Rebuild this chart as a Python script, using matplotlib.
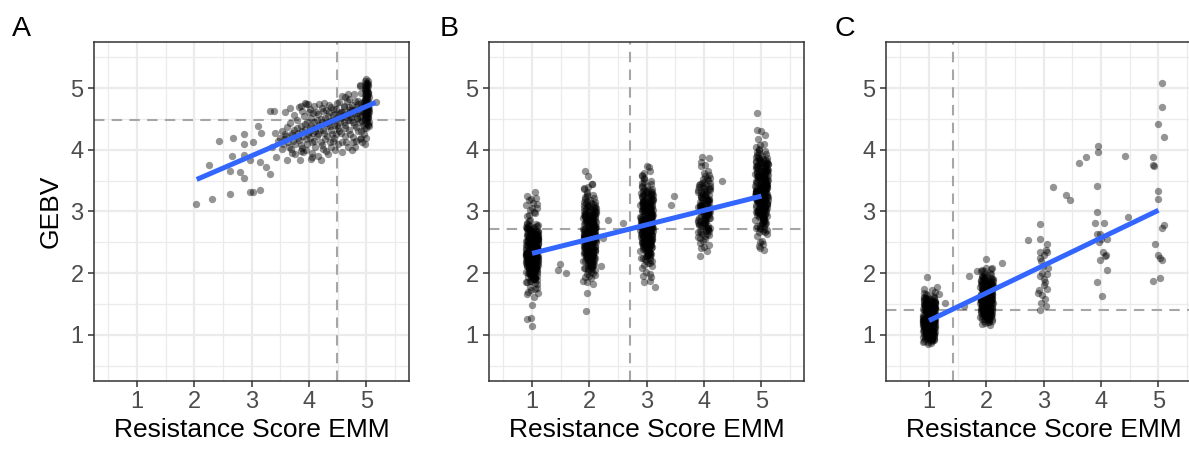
import numpy as np
import matplotlib.pyplot as plt

plt.rcParams['font.family'] = ['Liberation Sans', 'DejaVu Sans']

# ---------------- data ----------------
# panel A: scattered points (x = resistance score EMM, y = GEBV)
a_x = [2.03, 2.30, 2.62, 2.97, 3.03, 3.14, 2.26, 2.42, 2.68, 2.87, 2.87, 3.03, 3.11, 3.16,
       2.66, 2.87, 2.97, 2.62, 2.80, 2.87, 3.14, 3.24, 3.32, 3.32, 3.38, 3.43, 3.49, 3.62,
       3.75, 3.84, 4.03, 4.20, 4.45, 4.25, 4.57, 4.77, 4.74, 4.88, 5.00, 5.17, 4.57, 4.88,
       3.85, 3.98, 3.36, 3.45, 3.52, 3.58, 3.40,
       3.82, 3.88, 3.95, 4.02, 4.08, 4.12, 4.18, 4.22, 4.30, 4.35, 4.42, 4.48, 4.55, 4.60,
       4.66, 4.70, 4.75, 4.62, 4.68, 4.80, 4.85, 4.90,
       3.55, 3.60, 3.65, 3.70, 3.72, 3.78, 3.80, 3.85, 3.88, 3.92, 3.95, 3.98, 4.02, 4.05,
       4.08, 4.10, 4.14, 4.18, 4.20, 4.24, 4.27, 4.30, 4.33, 4.36, 4.40, 4.42, 4.45, 4.48,
       4.52, 4.55, 4.58, 4.60, 4.63, 4.66, 4.70, 4.72, 4.75, 4.78, 4.80, 4.83, 4.86, 4.88,
       4.90, 4.92, 4.94,
       3.70, 3.85, 3.95, 4.05, 4.10, 4.15, 4.22, 4.30, 4.38, 4.42, 4.50, 4.62, 4.68, 4.72,
       4.82, 4.85, 4.90, 4.95, 4.98,
       4.99, 5.02, 4.97, 5.03, 5.00, 4.98, 5.04, 5.01, 4.96, 5.02, 4.99, 5.03, 4.97, 5.00,
       5.02, 4.98, 5.04, 5.01, 4.99, 5.02, 4.97, 5.00, 5.03, 4.98, 5.01, 5.02, 4.99, 5.04,
       4.98, 5.01, 5.03, 4.96, 5.00, 5.02, 4.98, 5.01, 5.03, 4.97, 5.00, 5.02, 4.99, 5.01,
       5.00, 4.98, 5.03, 5.05, 5.04, 4.97, 4.88, 4.90, 4.86]
a_y = [3.12, 3.21, 3.29, 3.32, 3.31, 3.35, 3.76, 4.14, 4.20, 4.25, 4.10, 4.12, 4.38, 4.28,
       3.90, 3.92, 3.83, 3.65, 3.64, 3.55, 3.80, 3.72, 3.61, 4.63, 4.63, 3.88, 4.20, 3.83,
       3.94, 3.83, 3.85, 3.84, 3.99, 4.02, 4.12, 4.12, 4.00, 4.18, 4.20, 4.77, 4.88, 5.06,
       4.71, 4.74, 4.05, 4.15, 4.02, 4.25, 4.28,
       4.70, 4.63, 4.74, 4.66, 4.71, 4.61, 4.75, 4.68, 4.64, 4.73, 4.67, 4.76, 4.62, 4.71,
       4.79, 4.69, 4.65, 4.85, 4.90, 4.80, 4.74, 4.70,
       4.10, 4.22, 4.05, 4.28, 4.15, 4.35, 4.20, 4.08, 4.30, 4.42, 4.18, 4.26, 4.36, 4.12,
       4.45, 4.30, 4.22, 4.40, 4.50, 4.32, 4.18, 4.44, 4.55, 4.38, 4.26, 4.48, 4.58, 4.40,
       4.30, 4.52, 4.62, 4.45, 4.36, 4.56, 4.62, 4.48, 4.58, 4.40, 4.65, 4.52, 4.60, 4.45,
       4.30, 4.56, 4.40,
       3.95, 3.98, 4.00, 3.95, 4.05, 3.90, 4.08, 3.98, 4.05, 4.15, 4.10, 4.22, 4.05, 4.25,
       4.15, 4.30, 4.20, 4.25, 4.10,
       4.36, 4.42, 4.48, 4.52, 4.55, 4.58, 4.61, 4.64, 4.66, 4.69, 4.71, 4.73, 4.75, 4.78,
       4.80, 4.83, 4.86, 4.88, 4.91, 4.94, 4.97, 5.00, 5.03, 5.06, 5.09, 5.12, 5.15, 4.45,
       4.50, 4.60, 4.68, 4.77, 4.85, 4.92, 4.99, 5.05, 4.40, 4.57, 4.63, 4.74, 4.82, 4.96,
       5.08, 4.70, 4.54, 4.66, 4.38, 4.89, 5.04, 4.93, 4.80]
# panel A: the dense band between scores 3.5 and 5
a_band_x = [3.52, 3.57, 3.61, 3.63, 3.67, 3.69, 3.71, 3.74, 3.76, 3.79,
            3.81, 3.83, 3.86, 3.87, 3.90, 3.91, 3.93, 3.96, 3.97, 3.99,
            4.01, 4.03, 4.04, 4.06, 4.07, 4.09, 4.11, 4.13, 4.15, 4.16,
            4.19, 4.21, 4.23, 4.25, 4.26, 4.28, 4.31, 4.32, 4.34, 4.37,
            4.39, 4.41, 4.43, 4.44, 4.46, 4.49, 4.50, 4.53, 4.54, 4.56,
            4.59, 4.61, 4.62, 4.64, 4.67, 4.69, 4.71, 4.73, 4.74, 4.76,
            4.79, 4.81, 4.82, 4.84, 4.87, 4.89, 4.91, 4.93, 4.95, 4.96,
            3.58, 3.66, 3.73, 3.92, 4.00, 4.26, 4.38, 4.52, 4.70, 4.78,
            4.05, 4.33, 4.57, 4.65, 4.80, 4.92, 4.36, 3.89, 4.47, 4.76,
            5.00, 5.01, 4.99, 5.02, 5.00, 4.98, 5.01, 5.03, 4.99, 5.00, 5.02, 4.98, 5.01,
            5.03, 4.99, 5.00, 5.02, 4.97, 5.01, 5.00, 4.99, 5.02, 5.00, 4.98, 5.01]
a_band_y = [4.31, 4.18, 4.37, 4.12, 4.44, 4.02, 4.24, 4.33, 4.10, 4.48,
            4.27, 4.16, 4.39, 4.03, 4.22, 4.55, 4.34, 4.09, 4.46, 4.29,
            4.19, 4.52, 4.41, 4.27, 4.60, 4.14, 4.35, 4.48, 4.26, 4.58,
            4.33, 4.12, 4.45, 4.63, 4.28, 4.51, 4.38, 4.22, 4.61, 4.47,
            4.33, 4.56, 4.19, 4.41, 4.66, 4.52, 4.36, 4.60, 4.46, 4.27,
            4.55, 4.69, 4.41, 4.58, 4.49, 4.33, 4.64, 4.54, 4.73, 4.46,
            4.59, 4.37, 4.70, 4.50, 4.63, 4.55, 4.76, 4.47, 4.62, 4.35,
            4.62, 4.68, 4.57, 4.76, 4.62, 4.76, 4.69, 4.77, 4.82, 4.90,
            3.88, 3.93, 3.96, 4.13, 4.04, 4.12, 4.12, 3.96, 4.25, 4.21,
            4.44, 4.51, 4.59, 4.65, 4.72, 4.79, 4.84, 4.90, 4.95, 5.02, 5.07, 5.11, 4.47,
            4.56, 4.62, 4.69, 4.76, 4.81, 4.87, 4.93, 4.53, 4.59, 4.67, 4.74, 4.98]

# horizontal jitter offsets used for the dense score columns (panels B and C)
jit = [-0.08, 0.03, 0.10, -0.02, 0.06, -0.10, 0.01, 0.08, -0.05, 0.04, -0.09, 0.07, -0.01, 0.09, -0.06,
       0.02, -0.03, 0.11, -0.07, 0.05, 0.00, -0.11, 0.08, -0.04, 0.03, 0.10, -0.08, 0.06, -0.02, 0.01,
       -0.10, 0.09, -0.05, 0.04, -0.06, 0.07, 0.02, -0.09, 0.05, -0.01, 0.10, -0.03, 0.08, -0.07, 0.00,
       0.06, -0.11, 0.03, -0.04, 0.09, -0.08, 0.01, 0.07, -0.02, 0.11, -0.06, 0.04, -0.09, 0.02, 0.08,
       -0.05, 0.10, -0.01, 0.05, -0.10, 0.03, 0.09, -0.07, 0.00, 0.06, -0.03, 0.08, -0.08, 0.01, 0.04,
       -0.06, 0.11, -0.04, 0.07, -0.09, 0.02, 0.05, -0.02, 0.10, -0.07, 0.03, -0.11, 0.06, -0.05, 0.09,
       0.00, -0.08, 0.04, 0.08, -0.03, 0.01, -0.10, 0.07, -0.06, 0.05, 0.02, -0.04, 0.09, -0.01, 0.03,
       -0.09, 0.06, -0.02, 0.10, -0.05, 0.04, -0.07, 0.08, 0.01, -0.10, 0.05, -0.03, 0.07, 0.00, -0.06,
       0.09, -0.01, 0.03, -0.08, 0.06, -0.04, 0.11, -0.06, 0.02, 0.08, -0.09, 0.04, -0.02, 0.05, -0.07,
       0.01, 0.07, -0.05, 0.10, -0.03, 0.06, -0.10, 0.03, -0.01, 0.09, -0.07, 0.02, 0.08, -0.04, 0.05]

scores = [1, 2, 3, 4, 5]

# panel B: GEBV per score column (outer spread)
b1_y = [2.31, 2.05, 2.62, 1.88, 2.44, 2.17, 2.73, 1.96, 2.38, 2.51, 2.12, 2.80, 2.26, 1.82, 2.58,
        2.09, 2.35, 2.67, 1.93, 2.21, 2.47, 2.02, 2.76, 2.29, 2.14, 2.55, 1.85, 2.41, 2.69, 2.00,
        2.33, 2.19, 2.84, 2.07, 2.49, 2.24, 1.91, 2.60, 2.36, 2.11, 2.78, 1.98, 2.43, 2.27, 2.65,
        2.04, 2.52, 2.16, 1.87, 2.39, 2.71, 2.22, 2.46, 1.95, 2.57, 2.10, 2.32, 2.82, 2.01, 2.63,
        2.28, 2.13, 2.48, 1.90, 2.37, 2.75, 2.06, 2.54, 2.20, 1.84, 2.42, 2.66, 2.15, 2.30, 1.99,
        2.59, 2.25, 2.87, 2.08, 2.45, 2.34, 1.94, 2.70, 2.18, 2.53, 2.03, 2.40, 2.61, 2.23, 1.89,
        2.50, 2.79, 2.12, 2.36, 2.56, 1.97, 2.29, 2.68, 2.09, 2.44, 2.18, 2.33, 2.26, 2.40, 2.21,
        2.35, 2.15, 2.47, 2.28, 2.02, 2.39, 2.24, 2.55, 2.11, 2.31, 2.43, 2.19, 2.37, 2.06, 2.49,
        2.27, 2.64, 2.13, 2.34, 1.92, 2.46, 2.22, 2.58, 2.17, 2.38, 2.74, 2.05, 2.30, 2.52, 2.25,
        2.42, 2.08, 2.32, 2.61, 2.16, 2.45, 1.86, 2.36, 2.20, 2.57, 2.29, 2.10, 2.41, 2.72, 2.23]
b2_y = [2.61, 2.23, 2.95, 2.04, 2.78, 2.40, 3.18, 2.15, 2.67, 2.88, 2.31, 3.27, 2.52, 1.97, 2.83,
        2.36, 2.71, 3.05, 2.09, 2.47, 2.92, 2.19, 3.22, 2.58, 2.27, 2.99, 1.93, 2.74, 3.11, 2.12,
        2.64, 2.44, 3.32, 2.21, 2.86, 2.50, 2.02, 3.01, 2.69, 2.34, 3.15, 2.07, 2.77, 2.55, 3.08,
        2.18, 2.90, 2.42, 1.99, 2.73, 3.24, 2.46, 2.81, 2.11, 2.97, 2.29, 2.62, 3.36, 2.14, 3.03,
        2.56, 2.38, 2.85, 2.06, 2.68, 3.13, 2.25, 2.93, 2.49, 2.01, 2.76, 3.07, 2.33, 2.59, 2.16,
        2.98, 2.53, 3.29, 2.28, 2.80, 2.66, 2.10, 3.09, 2.43, 2.91, 2.20, 2.72, 3.02, 2.48, 2.05,
        2.87, 3.20, 2.37, 2.63, 2.94, 2.17, 2.57, 3.12, 2.32, 2.79, 2.45, 2.65, 2.54, 2.70, 2.51,
        2.60, 2.39, 2.84, 2.58, 2.24, 2.75, 2.52, 2.96, 2.35, 2.62, 2.82, 2.47, 2.68, 2.30, 2.89,
        2.55, 3.00, 2.41, 2.66, 2.13, 2.86, 2.50, 3.04, 2.44, 2.73, 3.16, 2.26, 2.61, 2.90, 2.57,
        2.77, 2.34, 2.63, 3.06, 2.40, 2.83, 2.08, 2.69, 2.48, 3.10, 2.59, 2.22, 2.75, 3.25, 2.53]
b3_y = [2.81, 2.42, 3.16, 2.20, 2.97, 2.58, 3.41, 2.31, 2.86, 3.08, 2.49, 3.50, 2.71, 2.12, 3.03,
        2.54, 2.92, 3.27, 2.25, 2.66, 3.13, 2.36, 3.45, 2.78, 2.44, 3.20, 2.08, 2.95, 3.33, 2.28,
        2.84, 2.63, 3.55, 2.39, 3.06, 2.69, 2.17, 3.23, 2.89, 2.52, 3.37, 2.23, 2.98, 2.75, 3.30,
        2.34, 3.11, 2.61, 2.14, 2.93, 3.47, 2.65, 3.01, 2.27, 3.18, 2.46, 2.83, 3.58, 2.30, 3.25,
        2.76, 2.56, 3.05, 2.21, 2.88, 3.35, 2.43, 3.14, 2.68, 2.16, 2.96, 3.29, 2.51, 2.79, 2.33,
        3.19, 2.73, 3.52, 2.45, 3.00, 2.86, 2.26, 3.31, 2.62, 3.12, 2.37, 2.91, 3.24, 2.67, 2.19,
        3.07, 3.42, 2.55, 2.82, 3.15, 2.32, 2.77, 3.34, 2.50, 2.99, 2.64, 2.85, 2.74, 2.90, 2.70,
        2.80, 2.57, 3.04, 2.78, 2.41, 2.94, 2.72, 3.17, 2.53, 2.82, 3.02, 2.66, 2.88, 2.48, 3.09,
        2.75, 3.22, 2.60, 2.87, 2.29, 3.06, 2.69, 3.26, 2.63, 2.93, 3.39, 2.44, 2.81, 3.10, 2.76,
        2.97, 2.52, 2.84, 3.28, 2.59, 3.03, 2.24, 2.89, 2.68, 3.32, 2.79, 2.40, 2.95, 3.48, 2.73]
b4_y = [3.05, 2.71, 3.38, 2.52, 3.19, 2.86, 3.57, 2.62, 3.10, 3.29, 2.78, 3.66, 2.95, 2.45, 3.24,
        2.83, 3.14, 3.46, 2.57, 2.92, 3.33, 2.67, 3.60, 3.01, 2.75, 3.41, 2.49, 3.17, 3.52, 2.60,
        3.08, 2.89, 3.74, 2.69, 3.27, 2.97, 2.55, 3.43, 3.12, 2.80, 3.54, 2.64, 3.21, 3.00, 3.48,
        2.73, 3.31, 2.93, 3.03, 3.15, 2.85, 3.36, 2.98, 3.22, 3.07, 2.76, 3.12, 2.90, 3.26, 3.02,
        2.66, 3.35, 2.81, 3.18, 2.58, 3.44, 2.94, 3.09, 3.62, 2.70]
b5_y = [3.31, 2.92, 3.66, 2.71, 3.47, 3.08, 3.90, 2.81, 3.36, 3.58, 2.99, 3.98, 3.21, 2.63, 3.53,
        3.04, 3.42, 3.77, 2.76, 3.16, 3.63, 2.87, 3.94, 3.28, 2.95, 3.70, 2.60, 3.45, 3.83, 2.79,
        3.34, 3.13, 4.02, 2.89, 3.56, 3.19, 2.68, 3.73, 3.39, 3.02, 3.86, 2.74, 3.48, 3.25, 3.80,
        2.85, 3.61, 3.11, 2.66, 3.43, 3.96, 3.15, 3.51, 2.78, 3.68, 2.97, 3.33, 4.05, 2.82, 3.75,
        3.26, 3.06, 3.55, 2.72, 3.38, 3.85, 2.93, 3.64, 3.18, 2.67, 3.46, 3.79, 3.01, 3.29, 2.84,
        3.69, 3.23, 4.00, 2.96, 3.50, 3.36, 2.77, 3.81, 3.12, 3.62, 2.88, 3.41, 3.74, 3.17, 2.70,
        3.57, 3.92, 3.05, 3.32, 3.65, 2.83, 3.27, 3.84, 3.00, 3.49, 3.14, 3.35, 3.24, 3.40, 3.20,
        3.30, 3.09, 3.54, 3.28, 2.91, 3.44, 3.22, 3.67, 3.03, 3.32, 3.52, 3.16, 3.38, 2.98, 3.59,
        3.25, 3.72, 3.10, 3.37, 2.80, 3.56, 3.19, 3.76, 3.13, 3.43, 3.89, 2.94, 3.31, 3.60, 3.27,
        3.47, 3.02, 3.34, 3.78, 3.09, 3.53, 2.73, 3.39, 3.18, 3.82, 3.29, 2.90, 3.45, 3.95, 3.23]
# panel B: inner (densest) part of each column
b1_core = [2.24, 2.51, 2.03, 2.38, 2.66, 2.15, 2.44, 1.94, 2.30, 2.59, 2.09, 2.47, 2.72, 2.19, 2.35, 2.00, 2.55, 2.27, 2.63, 2.12,
           2.41, 1.90, 2.33, 2.69, 2.06, 2.48, 2.21, 2.57, 2.16, 2.39, 2.77, 2.02, 2.29, 2.53, 2.11, 2.45, 1.97, 2.36, 2.62, 2.25,
           2.08, 2.50, 2.18, 2.42, 2.74, 2.05, 2.32, 2.60, 2.14, 2.46, 1.92, 2.28, 2.56, 2.20, 2.40, 2.67, 2.01, 2.34, 2.52, 2.13,
           2.43, 2.78, 2.07, 2.26, 2.58, 2.17, 2.37, 1.96, 2.49, 2.23, 2.64, 2.10, 2.31, 2.54, 2.04, 2.44, 2.70, 2.19, 2.35, 1.99,
           2.61, 2.27, 2.46, 2.12, 2.38, 2.75, 2.06, 2.29, 2.55, 2.22, 2.40, 1.93, 2.33, 2.65, 2.15, 2.48, 2.02, 2.30, 2.57, 2.24]
b2_core = [2.52, 2.81, 2.26, 2.64, 2.97, 2.38, 2.70, 2.14, 2.55, 2.88, 2.31, 2.74, 3.08, 2.43, 2.61, 2.19, 2.84, 2.49, 2.93, 2.35,
           2.67, 2.09, 2.58, 3.01, 2.28, 2.77, 2.45, 2.86, 2.40, 2.63, 3.13, 2.22, 2.53, 2.80, 2.33, 2.71, 2.17, 2.60, 2.95, 2.48,
           2.30, 2.78, 2.42, 2.68, 3.05, 2.25, 2.57, 2.91, 2.37, 2.73, 2.12, 2.51, 2.85, 2.44, 2.65, 2.99, 2.21, 2.59, 2.82, 2.36,
           2.69, 3.17, 2.29, 2.50, 2.89, 2.41, 2.62, 2.16, 2.76, 2.47, 2.94, 2.32, 2.56, 2.83, 2.24, 2.70, 3.03, 2.43, 2.61, 2.20,
           2.92, 2.52, 2.72, 2.34, 2.64, 3.10, 2.27, 2.54, 2.87, 2.46, 2.66, 2.13, 2.58, 2.98, 2.39, 2.75, 2.23, 2.55, 2.90, 2.49]
b3_core = [2.72, 3.01, 2.46, 2.84, 3.17, 2.58, 2.90, 2.34, 2.75, 3.08, 2.51, 2.94, 3.28, 2.63, 2.81, 2.39, 3.04, 2.69, 3.13, 2.55,
           2.87, 2.29, 2.78, 3.21, 2.48, 2.97, 2.65, 3.06, 2.60, 2.83, 3.33, 2.42, 2.73, 3.00, 2.53, 2.91, 2.37, 2.80, 3.15, 2.68,
           2.50, 2.98, 2.62, 2.88, 3.25, 2.45, 2.77, 3.11, 2.57, 2.93, 2.32, 2.71, 3.05, 2.64, 2.85, 3.19, 2.41, 2.79, 3.02, 2.56,
           2.89, 3.37, 2.49, 2.70, 3.09, 2.61, 2.82, 2.36, 2.96, 2.67, 3.14, 2.52, 2.76, 3.03, 2.44, 2.90, 3.23, 2.63, 2.81, 2.40,
           3.12, 2.72, 2.92, 2.54, 2.84, 3.30, 2.47, 2.74, 3.07, 2.66, 2.86, 2.33, 2.78, 3.18, 2.59, 2.95, 2.43, 2.75, 3.10, 2.69]
b4_core = [3.02, 2.78, 3.26, 2.91, 3.44, 2.69, 3.13, 2.85, 3.35, 2.97, 3.20, 2.74, 3.08, 3.51, 2.88, 3.16, 2.64, 3.29, 2.95, 3.40,
           3.05, 2.81, 3.23, 2.99, 3.47, 2.72, 3.11, 3.32, 2.87, 3.18, 2.93, 3.38, 2.77, 3.07, 3.55, 2.83, 3.25, 3.00, 2.68, 3.14,
           3.31, 2.90, 3.42, 3.04, 2.80, 3.21, 2.96, 3.36, 3.09, 2.86]
b5_core = [3.28, 3.57, 3.02, 3.40, 3.73, 3.14, 3.46, 2.90, 3.31, 3.64, 3.07, 3.50, 3.84, 3.19, 3.37, 2.95, 3.60, 3.25, 3.69, 3.11,
           3.43, 2.85, 3.34, 3.77, 3.04, 3.53, 3.21, 3.62, 3.16, 3.39, 3.89, 2.98, 3.29, 3.56, 3.09, 3.47, 2.93, 3.36, 3.71, 3.24,
           3.06, 3.54, 3.18, 3.44, 3.81, 3.01, 3.33, 3.67, 3.13, 3.49, 2.88, 3.27, 3.61, 3.20, 3.41, 3.75, 2.97, 3.35, 3.58, 3.12,
           3.45, 3.86, 3.05, 3.26, 3.65, 3.17, 3.38, 2.92, 3.52, 3.23, 3.70, 3.08, 3.32, 3.59, 3.00, 3.46, 3.79, 3.19, 3.37, 2.96,
           3.68, 3.28, 3.48, 3.10, 3.40, 3.82, 3.03, 3.30, 3.63, 3.22, 3.42, 2.89, 3.34, 3.74, 3.15, 3.51, 2.99, 3.31, 3.66, 3.25]
# panel B: outlying points around the columns
b_extra_x = [0.92, 1.05, 0.97, 1.09, 0.90, 1.02, 0.95, 1.07, 1.05, 0.91, 1.00, 0.94, 1.08, 0.98, 1.03,
             0.96, 1.06, 0.93, 0.91, 1.03, 1.08, 0.99, 0.91, 0.98, 1.00, 1.00, 1.11,
             1.49, 1.46, 1.59,
             1.98, 2.05, 1.90, 1.92, 1.98, 2.04, 1.88, 2.02, 1.96, 2.07, 1.95, 1.94, 2.00,
             2.32, 2.59, 2.20, 2.24,
             2.95, 3.05, 3.00, 3.04, 2.92, 2.98, 3.06, 2.93, 2.95, 3.05, 3.15, 3.08,
             3.42, 3.47,
             3.96, 4.08, 3.94, 4.02, 3.95, 4.05, 3.93, 4.00, 4.31,
             4.92, 4.92, 5.00, 5.07, 4.94, 5.04, 4.97, 4.98, 5.03, 4.95, 4.98, 5.05, 5.01]
b_extra_y = [2.92, 2.97, 3.02, 3.06, 3.10, 3.14, 3.18, 3.22, 3.31, 3.25, 3.05, 2.95, 3.12, 3.20, 2.99,
             1.78, 1.74, 1.70, 1.66, 1.62, 1.76, 1.72, 1.25, 1.27, 1.15, 1.48, 1.67,
             2.15, 2.05, 2.01,
             3.40, 3.44, 3.38, 3.66, 3.58, 3.45, 1.88, 1.92, 1.85, 1.82, 1.67, 1.39, 1.95,
             2.86, 2.82, 2.11, 2.57,
             3.62, 3.66, 3.73, 3.72, 3.60, 2.02, 1.98, 1.95, 1.85, 1.87, 1.78, 1.93,
             3.10, 3.25,
             3.89, 3.87, 3.80, 3.76, 2.40, 2.36, 2.28, 2.42, 3.49,
             4.60, 4.32, 4.30, 4.24, 4.17, 4.10, 4.08, 2.50, 2.47, 2.44, 2.40, 2.38, 2.52]

# panel C: dense columns at scores 1 and 2
c1_y = [1.21, 0.95, 1.45, 0.89, 1.32, 1.06, 1.58, 0.99, 1.26, 1.40, 1.02, 1.63, 1.15, 0.91, 1.37,
        1.09, 1.29, 1.52, 0.93, 1.18, 1.48, 0.97, 1.61, 1.24, 1.04, 1.43, 0.90, 1.34, 1.56, 1.00,
        1.23, 1.12, 1.66, 0.96, 1.39, 1.16, 0.92, 1.50, 1.27, 1.07, 1.54, 0.98, 1.36, 1.19, 1.47,
        1.03, 1.42, 1.13, 0.94, 1.30, 1.60, 1.17, 1.35, 1.01, 1.44, 1.08, 1.25, 1.68, 0.97, 1.51,
        1.20, 1.05, 1.38, 0.92, 1.28, 1.55, 1.03, 1.46, 1.14, 0.90, 1.33, 1.59, 1.08, 1.22, 0.99,
        1.49, 1.18, 1.64, 1.06, 1.31, 1.26, 0.95, 1.53, 1.11, 1.41, 1.00, 1.29, 1.45, 1.15, 0.93,
        1.39, 1.57, 1.10, 1.23, 1.42, 0.98, 1.19, 1.55, 1.07, 1.33, 1.13, 1.27, 1.21, 1.30, 1.17,
        1.25, 1.09, 1.37, 1.22, 1.02, 1.34, 1.16, 1.44, 1.05, 1.24, 1.36, 1.12, 1.28, 1.01, 1.40,
        1.19, 1.48, 1.08, 1.26, 0.94, 1.38, 1.14, 1.50, 1.10, 1.31, 1.62, 1.04, 1.22, 1.43, 1.18,
        1.35, 1.03, 1.24, 1.52, 1.11, 1.37, 0.88, 1.27, 1.15, 1.46, 1.20, 1.06, 1.32, 1.58, 1.16]
c2_y = [1.56, 1.27, 1.83, 1.19, 1.68, 1.39, 1.97, 1.31, 1.61, 1.76, 1.35, 2.01, 1.50, 1.22, 1.72,
        1.43, 1.64, 1.90, 1.25, 1.53, 1.86, 1.29, 1.99, 1.59, 1.37, 1.80, 1.17, 1.70, 1.93, 1.33,
        1.58, 1.47, 2.04, 1.28, 1.74, 1.51, 1.21, 1.88, 1.62, 1.41, 1.91, 1.26, 1.69, 1.54, 1.84,
        1.36, 1.78, 1.45, 1.23, 1.66, 1.95, 1.49, 1.71, 1.32, 1.81, 1.40, 1.57, 2.03, 1.30, 1.87,
        1.55, 1.38, 1.73, 1.20, 1.63, 1.89, 1.34, 1.79, 1.48, 1.16, 1.67, 1.92, 1.42, 1.60, 1.24,
        1.82, 1.52, 1.98, 1.37, 1.65, 1.57, 1.28, 1.85, 1.44, 1.75, 1.33, 1.62, 1.77, 1.50, 1.26,
        1.69, 1.94, 1.40, 1.55, 1.73, 1.31, 1.53, 1.85, 1.39, 1.64, 1.46, 1.58, 1.52, 1.61, 1.49,
        1.57, 1.43, 1.70, 1.54, 1.35, 1.66, 1.48, 1.78, 1.38, 1.56, 1.68, 1.45, 1.59, 1.34, 1.72]
c1_core = [1.18, 1.38, 1.00, 1.27, 1.50, 1.09, 1.31, 0.95, 1.22, 1.44, 1.04, 1.34, 1.57, 1.13, 1.25, 0.98, 1.41, 1.16, 1.47, 1.07,
           1.29, 0.93, 1.23, 1.53, 1.02, 1.36, 1.14, 1.43, 1.11, 1.26, 1.59, 0.99, 1.20, 1.39, 1.06, 1.32, 0.96, 1.24, 1.49, 1.17,
           1.03, 1.37, 1.12, 1.30, 1.55, 1.01, 1.21, 1.45, 1.08, 1.33, 0.94, 1.19, 1.42, 1.14, 1.28, 1.52, 0.97, 1.23, 1.40, 1.06,
           1.31, 1.60, 1.02, 1.17, 1.46, 1.11, 1.26, 0.95, 1.35, 1.15, 1.48, 1.05, 1.22, 1.42, 1.00, 1.32, 1.54, 1.13, 1.24, 0.98]
c2_core = [1.52, 1.73, 1.33, 1.61, 1.85, 1.42, 1.65, 1.27, 1.56, 1.79, 1.37, 1.68, 1.91, 1.47, 1.59, 1.30, 1.76, 1.50, 1.82, 1.40,
           1.63, 1.25, 1.57, 1.88, 1.35, 1.71, 1.48, 1.78, 1.44, 1.60, 1.93, 1.32, 1.54, 1.74, 1.39, 1.66, 1.28, 1.58, 1.84, 1.51,
           1.36, 1.72, 1.46, 1.64, 1.89, 1.34, 1.55, 1.80, 1.41, 1.67, 1.26, 1.53, 1.77, 1.45, 1.62, 1.86, 1.31, 1.57, 1.75, 1.38,
           1.65, 1.94, 1.35, 1.51, 1.81, 1.43, 1.60, 1.29, 1.70, 1.49, 1.83, 1.39, 1.56, 1.76, 1.33, 1.66, 1.87, 1.47, 1.58, 1.30]
# panel C: remaining individual points
c_extra_x = [0.96, 1.13, 1.27, 1.17, 1.05, 0.92, 1.10, 0.98, 1.04,
             2.00, 1.84, 1.70, 1.99, 2.28, 1.61, 1.93, 2.08, 2.10,
             2.93, 2.72, 2.93, 3.05, 3.06, 2.93, 3.00, 2.99, 2.93, 3.00, 3.06, 2.91, 3.05, 2.90,
             2.97, 3.04, 2.93, 2.95, 3.02, 2.96, 3.08, 3.03, 2.97, 3.01, 2.94, 3.04,
             3.16, 3.39, 3.45, 3.62, 3.74,
             3.94, 3.95, 3.92, 3.92, 3.90, 4.05, 3.93, 3.98, 4.11, 4.04, 4.08, 3.98, 4.10, 3.93,
             4.02, 4.06, 3.97, 4.00,
             4.42, 4.47,
             5.07, 5.07, 4.99, 5.10, 4.90, 4.91, 4.92, 4.99, 4.99, 5.09, 5.06, 4.94, 4.99, 5.06,
             5.03, 4.91, 5.03]
c_extra_y = [1.93, 1.77, 1.52, 1.66, 1.72, 1.75, 1.70, 0.85, 0.86,
             2.23, 2.04, 1.95, 2.08, 2.17, 1.46, 2.05, 2.06, 2.09,
             2.80, 2.54, 2.55, 2.47, 2.35, 2.35, 2.30, 2.11, 1.96, 1.90, 1.98, 1.73, 1.75, 1.68,
             1.64, 1.46, 1.41, 1.52, 1.58, 2.20, 2.08, 1.85, 2.00, 1.80, 2.25, 2.38,
             3.39, 3.27, 3.18, 3.78, 3.88,
             4.07, 3.97, 3.42, 2.99, 2.81, 2.81, 2.63, 2.63, 2.56, 2.35, 2.30, 2.21, 2.05, 1.85,
             1.63, 2.27, 2.50, 2.55,
             3.90, 2.91,
             5.08, 4.70, 4.42, 4.21, 3.88, 3.76, 3.74, 3.33, 3.20, 2.78, 2.74, 2.48, 2.30, 2.21,
             2.24, 1.88, 1.92]

# linear fit end points and threshold (mean) lines per panel
fit_x = {'A': [2.04, 5.16], 'B': [1.0, 5.0], 'C': [1.0, 5.0]}
fit_y = {'A': [3.52, 4.77], 'B': [2.32, 3.25], 'C': [1.23, 3.02]}
thresh = {'A': 4.49, 'B': 2.71, 'C': 1.41}


def style(ax):
    ax.set_xlim(0.25, 5.75)
    ax.set_ylim(0.25, 5.75)
    ax.set_xticks(scores)
    ax.set_yticks(scores)
    ax.set_xticks([0.5, 1.5, 2.5, 3.5, 4.5, 5.5], minor=True)
    ax.set_yticks([0.5, 1.5, 2.5, 3.5, 4.5, 5.5], minor=True)
    ax.grid(which='major', color='#EBEBEB', lw=1.6, zorder=0)
    ax.grid(which='minor', color='#EBEBEB', lw=0.9, zorder=0)
    ax.set_axisbelow(True)
    ax.tick_params(which='major', length=4.5, width=1.1, color='#333333',
                   labelcolor='#4D4D4D', labelsize=17, pad=3)
    ax.tick_params(which='minor', length=0)
    for s in ax.spines.values():
        s.set_color('#333333')
        s.set_linewidth(1.1)
    ax.set_xlabel('Resistance Score EMM', fontsize=19, labelpad=3)


def columns(cols, cores):
    xs, ys = [], []
    rev = jit[::-1]
    for sc, col, core in zip(scores, cols, cores):
        xs += [sc + j for j in jit[:len(col)]]
        ys += col
        xs += [sc + j for j in rev[:len(core)]]
        ys += core
    return xs, ys


def draw(ax, xs, ys, key):
    t = thresh[key]
    ax.axhline(t, color='#A6A6A6', lw=1.5, ls=(0, (5, 3.5)), zorder=1.5)
    ax.axvline(t, color='#A6A6A6', lw=1.5, ls=(0, (5, 3.5)), zorder=1.5)
    ax.scatter(xs, ys, s=28, c='black', alpha=0.42, linewidths=0, zorder=2)
    ax.plot(fit_x[key], fit_y[key], color='#3366FF', lw=3.6, solid_capstyle='butt', zorder=3)


def main():
    fig = plt.figure(figsize=(11.89, 4.51), dpi=100)
    w, h = 0.2653, 0.7517
    axA = fig.add_axes([0.0791, 0.1552, w, h])
    axB = fig.add_axes([0.4113, 0.1552, w, h])
    axC = fig.add_axes([0.7452, 0.1552, w, h])

    # panel A
    draw(axA, a_x + a_band_x, a_y + a_band_y, 'A')
    axA.set_ylabel('GEBV', fontsize=19, labelpad=6)

    # panel B
    bx, by = columns([b1_y, b2_y, b3_y, b4_y, b5_y], [b1_core, b2_core, b3_core, b4_core, b5_core])
    draw(axB, bx + b_extra_x, by + b_extra_y, 'B')

    # panel C
    cx, cy = columns([c1_y, c2_y], [c1_core, c2_core])
    draw(axC, cx + c_extra_x, cy + c_extra_y, 'C')

    for ax in (axA, axB, axC):
        style(ax)

    for lab, x in zip(['A', 'B', 'C'], [0.010, 0.370, 0.702]):
        fig.text(x, 0.965, lab, fontsize=20.5, va='top', ha='left')

    fig.savefig('out.png', dpi=100)


if __name__ == '__main__':
    main()
